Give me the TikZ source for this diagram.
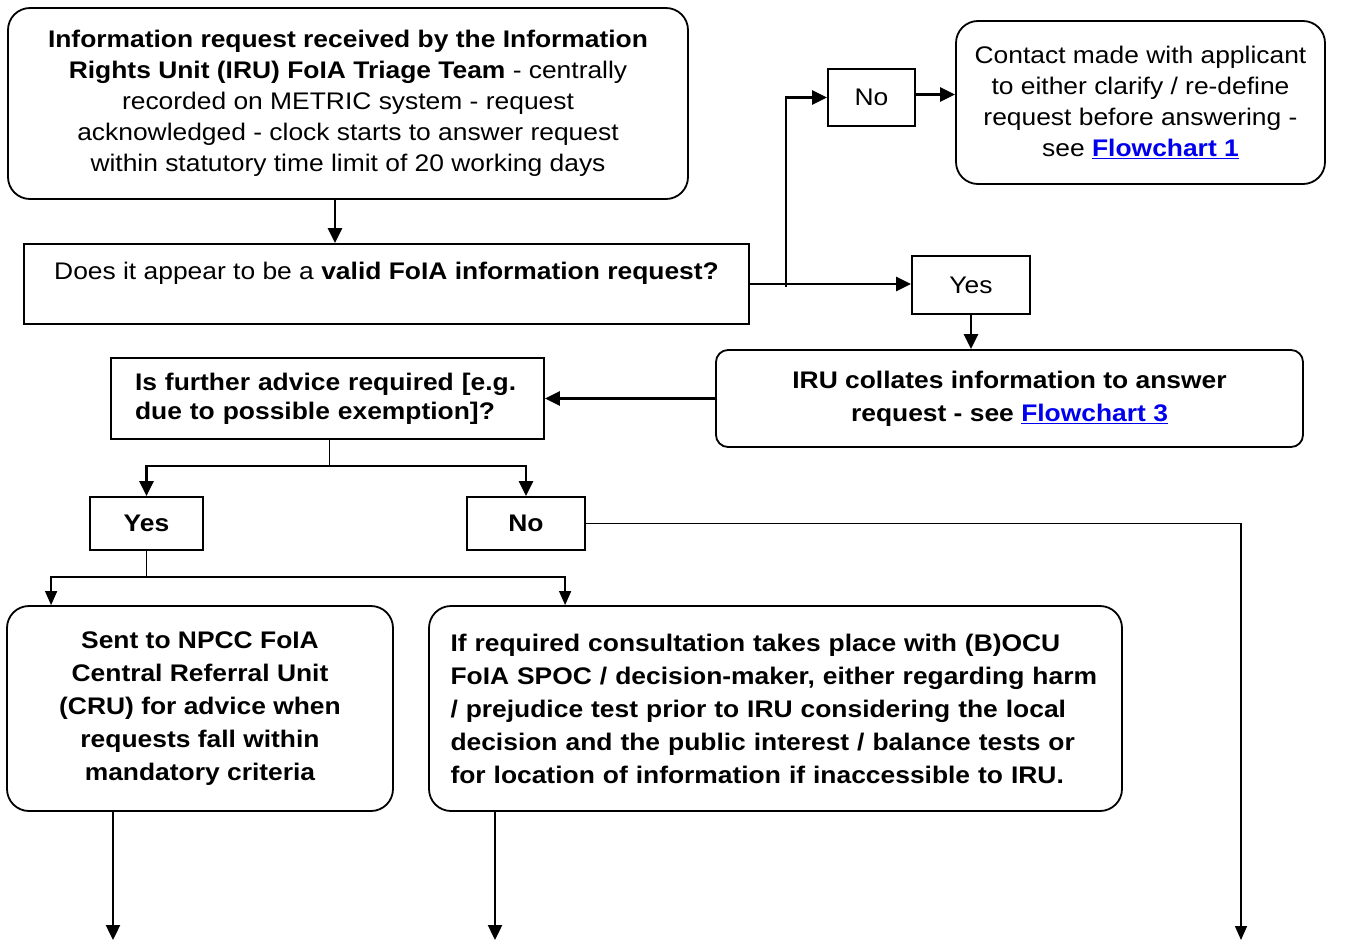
\documentclass[tikz,border=0pt]{standalone}
\usepackage{fontspec}
\setmainfont{Liberation Sans}[FakeStretch=1.1]
\usetikzlibrary{arrows.meta}
\definecolor{linkblue}{RGB}{0,0,238}
\newcommand{\fclink}[1]{\textcolor{linkblue}{\textbf{\underline{#1}}}}
\tikzset{
  plain/.style={font=\fontsize{24}{31}\selectfont},
  strong/.style={font=\fontsize{24}{33}\selectfont\bfseries},
  box/.style={draw, line width=1.8pt, inner sep=0pt, align=center, plain},
  rbox/.style={box, rounded corners=22pt},
  arr/.style={line width=2.4pt, -{Triangle[length=15pt,width=14pt]}},
  thinarr/.style={line width=1.3pt, -{Triangle[length=14pt,width=12pt]}}
}
\begin{document}
\begin{tikzpicture}[x=1pt,y=-1pt]
\useasboundingbox (0,0) rectangle (1355,942);

\node[rbox, minimum width=680pt, minimum height=191pt] (recv) at (348,103.5)
  {\textbf{Information request received by the Information}\\
   \textbf{Rights Unit (IRU) FoIA Triage Team} - centrally\\
   recorded on METRIC system - request\\
   acknowledged - clock starts to answer request\\
   within statutory time limit of 20 working days};
\node[box, minimum width=725pt, minimum height=80pt] (valid) at (386.5,284)
  {Does it appear to be a \textbf{valid FoIA information request?}\\[-14pt]\strut};
\node[box, minimum width=87pt, minimum height=57pt] (no1) at (871.5,97.5) {No};
\node[rbox, minimum width=369pt, minimum height=163pt] (contact) at (1140.5,102.5)
  {Contact made with applicant\\ to either clarify / re-define\\
   request before answering -\\ see \fclink{Flowchart 1}};
\node[box, minimum width=118pt, minimum height=58pt] (yes1) at (971,285) {Yes};
\node[rbox, rounded corners=12pt, strong, minimum width=587pt, minimum height=97pt] (collate) at (1009.5,398.5)
  {IRU collates information to answer\\ request - see \fclink{Flowchart 3}};
\node[box, strong, font=\fontsize{24}{29}\selectfont\bfseries, minimum width=433pt, minimum height=81pt,
  align=left, text width=385pt] (advice) at (327.5,398.5)
  {Is further advice required [e.g.\\ due to possible exemption]?};
\node[box, strong, minimum width=113pt, minimum height=53pt] (yes2) at (146.5,523.5) {Yes};
\node[box, strong, minimum width=118pt, minimum height=53pt] (no2) at (526,523.5) {No};
\node[rbox, strong, minimum width=386pt, minimum height=205pt] (cru) at (200,708.5)
  {Sent to NPCC FoIA\\ Central Referral Unit\\ (CRU) for advice when\\
   requests fall within\\ mandatory criteria};
\node[rbox, strong, minimum width=693pt, minimum height=205pt, align=left, text width=650pt] (consult) at (775.5,708.5)
  {If required consultation takes place with (B)OCU\\
   FoIA SPOC / decision-maker, either regarding harm\\
   / prejudice test prior to IRU considering the local\\
   decision and the public interest / balance tests or\\
   for location of information if inaccessible to IRU.};

\coordinate (fork1) at (786,284);
\coordinate (end1) at (113,940);
\coordinate (end2) at (495,940);
\coordinate (end3) at (1241,940);

\draw[arr] ([xshift=-13pt]recv.south) -- ([xshift=-13pt]recv.south |- valid.north);
\draw[arr] (valid.east) -- (valid.east -| yes1.west);
\draw[arr] ([yshift=-3pt]fork1) |- (no1.west);
\draw[arr] ([yshift=3pt]no1.east) -- ([yshift=3pt]no1.east -| contact.west);
\draw[arr] (yes1.south) -- (yes1.south |- collate.north);
\draw[arr] (collate.west) -- (advice.east);
\draw[line width=1.6pt] ([xshift=2pt]advice.south) -- ++(0,26) coordinate (fork2);
\draw[arr] (fork2) -| (yes2.north);
\draw[arr] (fork2) -| (no2.north);
\draw[thinarr] (no2.east) -| (end3);
\draw[line width=1.6pt] (yes2.south) -- ++(0,26) coordinate (fork3);
\draw[thinarr] (fork3) -| ([xshift=45pt]cru.north west);
\draw[thinarr] (fork3) -| ([xshift=137pt]consult.north west);
\draw[arr] (end1 |- cru.south) -- (end1);
\draw[arr] (end2 |- consult.south) -- (end2);
\end{tikzpicture}
\end{document}
